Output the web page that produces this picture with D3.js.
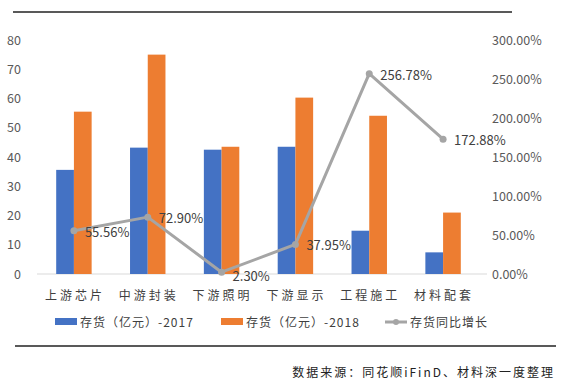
<!DOCTYPE html>
<html>
<head>
<meta charset="utf-8">
<script src="https://cdn.jsdelivr.net/npm/d3@7"></script>
<style>
  body { margin: 0; background: #fff; }
  text { font-family: "Noto Sans CJK SC", "DejaVu Sans", sans-serif; }
</style>
</head>
<body>
<div id="chart"></div>
<script>
// data
const categories = ["上游芯片", "中游封装", "下游照明", "下游显示", "工程施工", "材料配套"];
const inventory2017 = [35.6, 43.2, 42.5, 43.5, 14.8, 7.4];
const inventory2018 = [55.5, 75.0, 43.5, 60.3, 54.1, 21.0];
const growthPct = [55.56, 72.90, 2.30, 37.95, 256.78, 172.88];
const leftTicks = [0, 10, 20, 30, 40, 50, 60, 70, 80];
const rightTicks = [0, 50, 100, 150, 200, 250, 300];
const seriesNames = ["存货（亿元）-2017", "存货（亿元）-2018", "存货同比增长"];

function draw() {
    const width = 568, height = 389;
    const margin = { top: 40, left: 37, right: 88, bottom: 115 };
    const colors = ["#4472c4", "#ed7d31", "#a5a5a5"];
    const numFont = "Lato, 'Open Sans', sans-serif";

    const svg = d3.select("#chart")
        .append("svg")
        .attr("width", width)
        .attr("height", height);

    // top and bottom rules
    svg.append("line")
        .attr("x1", 13).attr("x2", 512).attr("y1", 12).attr("y2", 12)
        .attr("stroke", "#595959").attr("stroke-width", 2);
    svg.append("line")
        .attr("x1", 15).attr("x2", 556).attr("y1", 346).attr("y2", 346)
        .attr("stroke", "#595959").attr("stroke-width", 2);

    // scales
    const x = d3.scaleBand()
        .domain(categories)
        .range([margin.left, width - margin.right])
        .paddingInner(0.52)
        .paddingOuter(0.26);
    const sub = d3.scaleBand()
        .domain([0, 1])
        .range([0, x.bandwidth()]);
    const yLeft = d3.scaleLinear()
        .domain([0, 80])
        .range([height - margin.bottom, margin.top]);
    const yRight = d3.scaleLinear()
        .domain([0, 300])
        .range([height - margin.bottom, margin.top]);

    // left axis
    const leftAxis = d3.axisLeft(yLeft)
        .tickValues(leftTicks)
        .tickSize(0)
        .tickPadding(0);
    const gl = svg.append("g")
        .attr("transform", "translate(21,0)")
        .call(leftAxis);
    gl.select(".domain").remove();
    gl.selectAll("text")
        .attr("fill", "#595959")
        .attr("font-family", numFont)
        .attr("font-size", 12.5);

    // right axis
    const rightAxis = d3.axisRight(yRight)
        .tickValues(rightTicks)
        .tickSize(0)
        .tickPadding(0)
        .tickFormat(d => d.toFixed(2) + "%");
    const gr = svg.append("g")
        .attr("transform", "translate(492,0)")
        .call(rightAxis);
    gr.select(".domain").remove();
    gr.selectAll("text")
        .attr("fill", "#595959")
        .attr("font-family", numFont)
        .attr("font-size", 12.5);

    // baseline
    svg.append("line")
        .attr("x1", margin.left).attr("x2", width - margin.right + 7)
        .attr("y1", yLeft(0)).attr("y2", yLeft(0))
        .attr("stroke", "#d9d9d9");

    // bars
    [inventory2017, inventory2018].forEach((vals, s) => {
        svg.append("g")
            .selectAll("rect")
            .data(vals)
            .join("rect")
            .attr("x", (d, i) => x(categories[i]) + sub(s))
            .attr("y", d => yLeft(d))
            .attr("width", sub.bandwidth())
            .attr("height", d => yLeft(0) - yLeft(d))
            .attr("fill", colors[s]);
    });

    // x labels
    svg.append("g")
        .selectAll("text")
        .data(categories)
        .join("text")
        .attr("x", d => x(d) + x.bandwidth() / 2 + 1)
        .attr("y", 300)
        .attr("text-anchor", "middle")
        .attr("fill", "#404040")
        .attr("font-size", 12)
        .attr("letter-spacing", 3)
        .text(d => d);

    // growth line
    const cx = i => x(categories[i]) + x.bandwidth() / 2;
    const line = d3.line()
        .x((d, i) => cx(i))
        .y(d => yRight(d));
    svg.append("path")
        .datum(growthPct)
        .attr("d", line)
        .attr("fill", "none")
        .attr("stroke", colors[2])
        .attr("stroke-width", 3)
        .attr("stroke-linejoin", "round");
    svg.append("g")
        .selectAll("circle")
        .data(growthPct)
        .join("circle")
        .attr("cx", (d, i) => cx(i))
        .attr("cy", d => yRight(d))
        .attr("r", 3.5)
        .attr("fill", colors[2]);

    // data labels
    svg.append("g")
        .selectAll("text")
        .data(growthPct)
        .join("text")
        .attr("x", (d, i) => cx(i) + 11)
        .attr("y", (d, i) => yRight(d) + (i === 2 ? 9 : 6))
        .attr("fill", "#404040")
        .attr("font-family", numFont)
        .attr("font-size", 13)
        .text(d => d.toFixed(2) + "%");

    // legend
    const legendX = [55, 221, 385];
    const lg = svg.append("g");
    seriesNames.forEach((name, i) => {
        if (i < 2) {
            lg.append("rect")
                .attr("x", legendX[i]).attr("y", 318)
                .attr("width", 22).attr("height", 7)
                .attr("fill", colors[i]);
        } else {
            lg.append("line")
                .attr("x1", legendX[i]).attr("x2", legendX[i] + 22)
                .attr("y1", 322).attr("y2", 322)
                .attr("stroke", colors[i]).attr("stroke-width", 3);
            lg.append("circle")
                .attr("cx", legendX[i] + 11).attr("cy", 322)
                .attr("r", 3).attr("fill", colors[i]);
        }
        lg.append("text")
            .attr("x", legendX[i] + 25)
            .attr("y", 327)
            .attr("fill", "#404040")
            .attr("font-size", 12)
            .attr("letter-spacing", 1)
            .text(name);
    });

    // source
    svg.append("text")
        .attr("x", 555)
        .attr("y", 377)
        .attr("text-anchor", "end")
        .attr("fill", "#222")
        .attr("font-size", 12)
        .attr("letter-spacing", 2)
        .text("数据来源：同花顺iFinD、材料深一度整理");
}

document.addEventListener("DOMContentLoaded", draw);
</script>
</body>
</html>
